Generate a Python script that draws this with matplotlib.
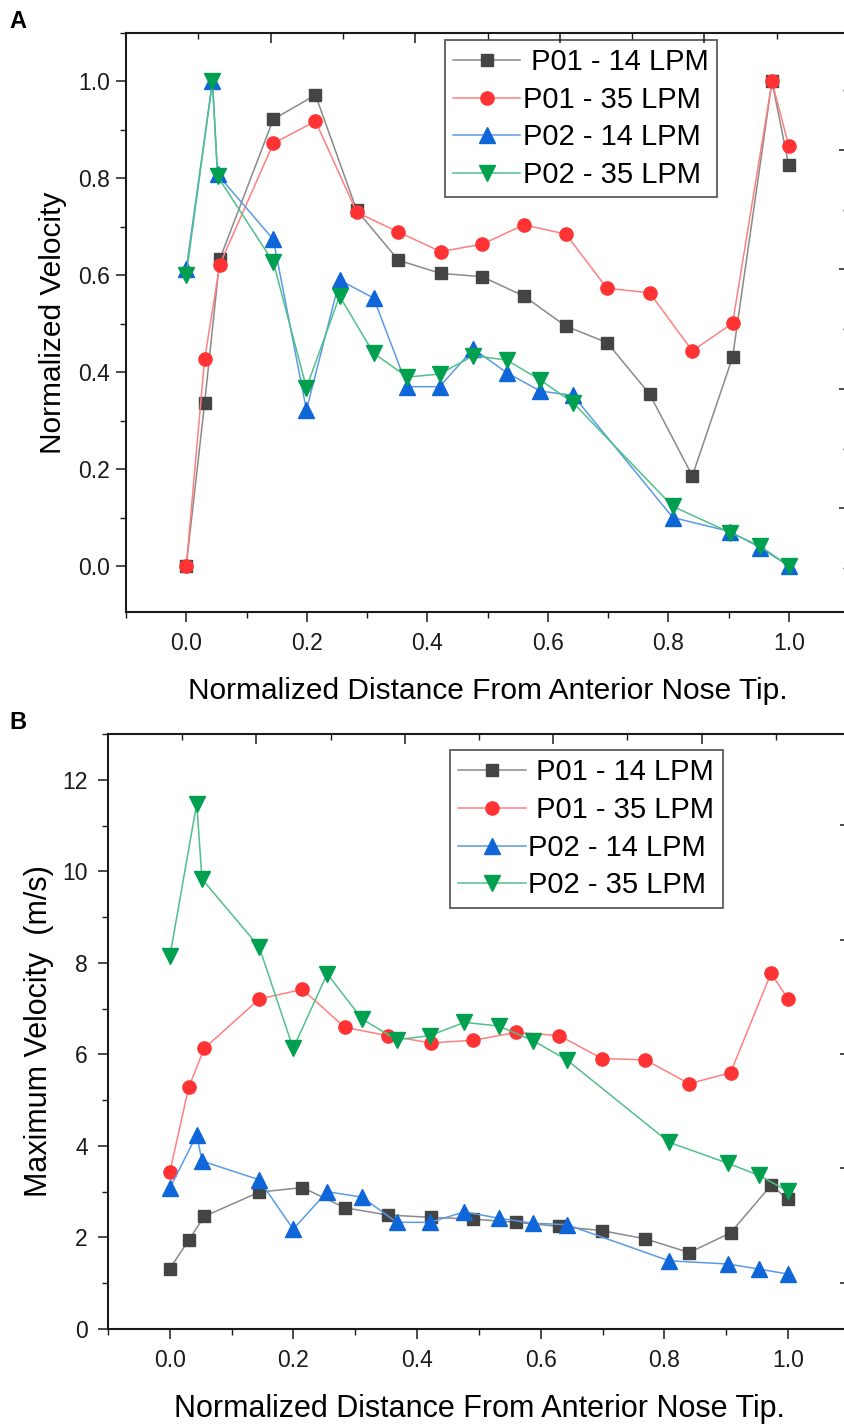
import matplotlib
matplotlib.use("Agg")
import matplotlib.pyplot as plt
from matplotlib.ticker import MultipleLocator, FormatStrFormatter

plt.rcParams['font.family'] = ['Liberation Sans', 'DejaVu Sans']

# ---------------- data ----------------
x_p01 = [0.0, 0.0305, 0.0556, 0.1445, 0.2145, 0.2830, 0.3522, 0.4220, 0.4910, 0.5605,
         0.6300, 0.6985, 0.7690, 0.8400, 0.9068, 0.9722, 1.0]
x_p02 = [0.0, 0.0435, 0.0520, 0.1445, 0.1995, 0.2545, 0.3110, 0.3670, 0.4205, 0.4765,
         0.5320, 0.5875, 0.6420, 0.8075, 0.9025, 0.9525, 1.0]

# Panel A: normalized velocity
a_p01_14 = [0.0, 0.336, 0.633, 0.922, 0.972, 0.734, 0.631, 0.604, 0.597, 0.557,
            0.495, 0.461, 0.355, 0.186, 0.431, 1.0, 0.827]
a_p01_35 = [0.0, 0.427, 0.622, 0.872, 0.918, 0.730, 0.689, 0.649, 0.664, 0.704,
            0.685, 0.573, 0.564, 0.444, 0.501, 1.0, 0.867]
a_p02_14 = [0.613, 1.0, 0.808, 0.674, 0.322, 0.590, 0.553, 0.370, 0.370, 0.448,
            0.399, 0.361, 0.352, 0.100, 0.071, 0.038, 0.0]
a_p02_35 = [0.600, 1.0, 0.804, 0.627, 0.368, 0.557, 0.439, 0.390, 0.396, 0.434,
            0.425, 0.384, 0.337, 0.123, 0.069, 0.041, 0.0]

# Panel B: maximum velocity (m/s)
b_p01_14 = [1.32, 1.94, 2.46, 2.99, 3.09, 2.65, 2.49, 2.44, 2.40, 2.33,
            2.24, 2.15, 1.97, 1.67, 2.10, 3.14, 2.83]
b_p01_35 = [3.43, 5.28, 6.13, 7.21, 7.42, 6.59, 6.41, 6.25, 6.31, 6.48,
            6.41, 5.91, 5.88, 5.36, 5.60, 7.77, 7.21]
b_p02_14 = [3.08, 4.24, 3.67, 3.26, 2.18, 3.00, 2.88, 2.33, 2.33, 2.56,
            2.42, 2.31, 2.28, 1.49, 1.42, 1.31, 1.20]
b_p02_35 = [8.14, 11.48, 9.83, 8.35, 6.13, 7.76, 6.77, 6.32, 6.41, 6.70,
            6.62, 6.30, 5.88, 4.08, 3.62, 3.36, 3.01]

labels_a = [' P01 - 14 LPM', 'P01 - 35 LPM', 'P02 - 14 LPM', 'P02 - 35 LPM']
labels_b = [' P01 - 14 LPM', ' P01 - 35 LPM', 'P02 - 14 LPM', 'P02 - 35 LPM']
xlabel = 'Normalized Distance From Anterior Nose Tip.'

# ---------------- styles ----------------
styles = [
    dict(marker='s', color='#8a8a8a', mfc='#444444', mec='#444444', ms=8.5),
    dict(marker='o', color='#ff8080', mfc='#ff3333', mec='#ff3333', ms=9.5),
    dict(marker='^', color='#5a9ae6', mfc='#0f66d8', mec='#0f66d8', ms=11),
    dict(marker='v', color='#50c08a', mfc='#00a050', mec='#00a050', ms=11),
]

W, H = 845, 1425
fig = plt.figure(figsize=(W / 100, H / 100), dpi=100)


def px_axes(l, t, r, b):
    return fig.add_axes([l / W, 1 - b / H, (r - l) / W, (b - t) / H])


TICK_COLOR = '#1a1a1a'


def style_axes(ax, ypad):
    for sp in ax.spines.values():
        sp.set_linewidth(1.5)
        sp.set_color(TICK_COLOR)
    ax.tick_params(which='major', direction='out', length=7.5, width=1.1,
                   labelsize=16.5, colors=TICK_COLOR, top=False, right=False)
    ax.tick_params(which='minor', direction='out', length=4.5, width=1.0,
                   colors=TICK_COLOR, top=False, right=False)
    ax.tick_params(axis='y', which='major', pad=ypad)
    ax.tick_params(axis='x', which='major', pad=7)


def add_extra_axes(ax, rlims):
    # top axis with its own ticks (labels cropped in original)
    axt = ax.twiny()
    axt.set_xlim(0, 10)
    axt.xaxis.set_major_locator(MultipleLocator(2))
    axt.xaxis.set_minor_locator(MultipleLocator(1))
    axt.tick_params(axis='x', which='major', direction='in', length=7.5, width=1.1,
                    labeltop=False, labelbottom=False, top=True, bottom=False,
                    colors=TICK_COLOR)
    axt.tick_params(axis='x', which='minor', direction='in', length=4.5, width=1.0,
                    top=True, bottom=False, colors=TICK_COLOR)
    axt.tick_params(axis='y', left=False, right=False, labelleft=False)
    for sp in axt.spines.values():
        sp.set_visible(False)
    # right axis with its own ticks
    axr = ax.twinx()
    axr.set_ylim(*rlims)
    axr.yaxis.set_major_locator(MultipleLocator(1))
    axr.yaxis.set_minor_locator(MultipleLocator(0.5))
    axr.tick_params(axis='y', which='major', direction='in', length=7.5, width=1.1,
                    labelright=False, right=True, left=False, colors=TICK_COLOR)
    axr.tick_params(axis='y', which='minor', direction='in', length=4.5, width=1.0,
                    right=True, left=False, colors=TICK_COLOR)
    for sp in axr.spines.values():
        sp.set_visible(False)


def draw_series(ax, xs, series, labels):
    handles = []
    for x, y, st, lab in zip(xs, series, styles, labels):
        h, = ax.plot(x, y, lw=1.1, label=lab, **st)
        handles.append(h)
    return handles


def add_legend(ax, handles, anchor):
    leg = ax.legend(handles=handles, loc='upper left', bbox_to_anchor=anchor,
                    borderaxespad=0, fontsize=21, frameon=True, fancybox=False,
                    edgecolor='#333333', handlelength=2.3, handletextpad=0.1,
                    labelspacing=0.33, borderpad=0.28)
    leg.get_frame().set_linewidth(1.3)
    leg.set_zorder(10)
    return leg


# ---------------- Panel A ----------------
axA = px_axes(126, 33, 849, 612)
hA = draw_series(axA, [x_p01, x_p01, x_p02, x_p02],
                 [a_p01_14, a_p01_35, a_p02_14, a_p02_35], labels_a)
axA.set_xlim(-0.1, 1.1)
axA.set_ylim(-0.095, 1.1)
axA.xaxis.set_major_locator(MultipleLocator(0.2))
axA.xaxis.set_minor_locator(MultipleLocator(0.1))
axA.yaxis.set_major_locator(MultipleLocator(0.2))
axA.yaxis.set_minor_locator(MultipleLocator(0.1))
axA.xaxis.set_major_formatter(FormatStrFormatter('%.1f'))
axA.yaxis.set_major_formatter(FormatStrFormatter('%.1f'))
style_axes(axA, ypad=4)
axA.set_xlabel(xlabel, fontsize=21.5, labelpad=16)
axA.set_ylabel('Normalized Velocity', fontsize=21.5, labelpad=8)
add_legend(axA, hA, (0.4412, 0.9879))
add_extra_axes(axA, (-0.868, 3.98))

# ---------------- Panel B ----------------
axB = px_axes(108, 734, 850, 1329)
hB = draw_series(axB, [x_p01, x_p01, x_p02, x_p02],
                 [b_p01_14, b_p01_35, b_p02_14, b_p02_35], labels_b)
axB.set_xlim(-0.1, 1.1)
axB.set_ylim(0, 13)
axB.xaxis.set_major_locator(MultipleLocator(0.2))
axB.xaxis.set_minor_locator(MultipleLocator(0.1))
axB.yaxis.set_major_locator(MultipleLocator(2))
axB.yaxis.set_minor_locator(MultipleLocator(1))
axB.xaxis.set_major_formatter(FormatStrFormatter('%.1f'))
style_axes(axB, ypad=7)
axB.set_xlabel(xlabel, fontsize=22, labelpad=16)
axB.set_ylabel('Maximum Velocity  (m/s)', fontsize=22, labelpad=6)
add_legend(axB, hB, (0.4613, 0.9726))
add_extra_axes(axB, (-1.405, 3.797))

# panel letters
fig.text(9 / W, 1 - 10 / H, 'A', fontsize=17, fontweight='bold', va='top', ha='left')
fig.text(9 / W, 1 - 711 / H, 'B', fontsize=17, fontweight='bold', va='top', ha='left')

fig.savefig('out.png', dpi=100)
